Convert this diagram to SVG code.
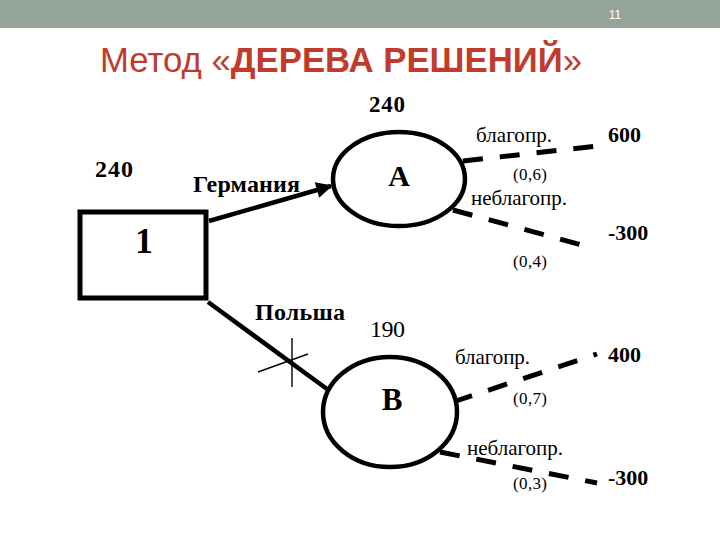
<svg xmlns="http://www.w3.org/2000/svg" width="720" height="540" viewBox="0 0 720 540">
<style>
.t{font-family:"Liberation Serif","Times New Roman",serif;fill:#000}
.b{font-weight:bold}
.node{fill:#fff;stroke:#000}
.dash{stroke:#000;stroke-width:5;stroke-dasharray:20 17;fill:none}
.solid{stroke:#000;stroke-width:4.5;fill:none}
.thin{stroke:#000;stroke-width:1.4;fill:none}
</style>
<defs>
<marker id="arr" viewBox="0 0 10 10" refX="9" refY="5" markerWidth="4" markerHeight="3.6" orient="auto" markerUnits="strokeWidth">
<path d="M0,0 L10,5 L0,10 z" fill="#000"/>
</marker>
</defs>
<rect x="0" y="0" width="720" height="28" fill="#95A49B"/>
<text x="615" y="19" font-family="Liberation Sans,Arial,sans-serif" font-size="12" fill="#fff" text-anchor="middle">11</text>
<text x="100" y="72" font-family="Liberation Sans,Arial,sans-serif" font-size="35" fill="#C03B2C" textLength="482" lengthAdjust="spacingAndGlyphs">Метод «<tspan font-weight="bold">ДЕРЕВА РЕШЕНИЙ</tspan>»</text>

<g id="connectors">
<line class="solid" x1="209" y1="221" x2="331" y2="186" marker-end="url(#arr)"/>
<line class="solid" x1="208" y1="302" x2="327" y2="389"/>
<line class="thin" x1="292" y1="338" x2="292" y2="387"/>
<line class="thin" x1="258" y1="372" x2="308" y2="354"/>
<line class="dash" x1="463" y1="161" x2="597" y2="146"/>
<line class="dash" x1="453" y1="210" x2="582" y2="245"/>
<line class="dash" x1="453" y1="402" x2="597" y2="354"/>
<line class="dash" x1="440" y1="452" x2="597" y2="483"/>
</g>

<g id="node-1">
<rect class="node" x="80" y="212" width="126" height="86" stroke-width="5"/>
<text class="t b" x="144" y="253" font-size="36" text-anchor="middle">1</text>
<text class="t b" x="95" y="177" font-size="24" textLength="38">240</text>
</g>

<g id="node-A">
<ellipse class="node" cx="399" cy="179" rx="66" ry="47" stroke-width="4.5"/>
<text class="t b" x="399" y="186" font-size="30" text-anchor="middle">A</text>
<text class="t b" x="369" y="112" font-size="23" textLength="36">240</text>
</g>

<g id="node-B">
<ellipse class="node" cx="390" cy="412" rx="67" ry="55" stroke-width="4.5"/>
<text class="t b" x="392" y="410" font-size="31" text-anchor="middle">B</text>
<text class="t" x="370" y="337" font-size="24" textLength="35">190</text>
</g>

<g id="labels">
<text class="t b" x="193" y="192" font-size="24" textLength="107">Германия</text>
<text class="t b" x="255" y="320" font-size="24" textLength="90">Польша</text>
<text class="t" x="476" y="142" font-size="21" textLength="76">благопр.</text>
<text class="t b" x="608" y="142" font-size="22">600</text>
<text class="t" x="513" y="180" font-size="17" textLength="34">(0,6)</text>
<text class="t" x="471" y="205" font-size="21" textLength="96">неблагопр.</text>
<text class="t b" x="608" y="240" font-size="22">-300</text>
<text class="t" x="513" y="267" font-size="17" textLength="34">(0,4)</text>
<text class="t" x="455" y="364" font-size="21" textLength="75">благопр.</text>
<text class="t b" x="608" y="362" font-size="22">400</text>
<text class="t" x="513" y="404" font-size="17" textLength="34">(0,7)</text>
<text class="t" x="467" y="455" font-size="21" textLength="96">неблагопр.</text>
<text class="t b" x="608" y="485" font-size="22">-300</text>
<text class="t" x="513" y="489" font-size="17" textLength="34">(0,3)</text>
</g>
</svg>
